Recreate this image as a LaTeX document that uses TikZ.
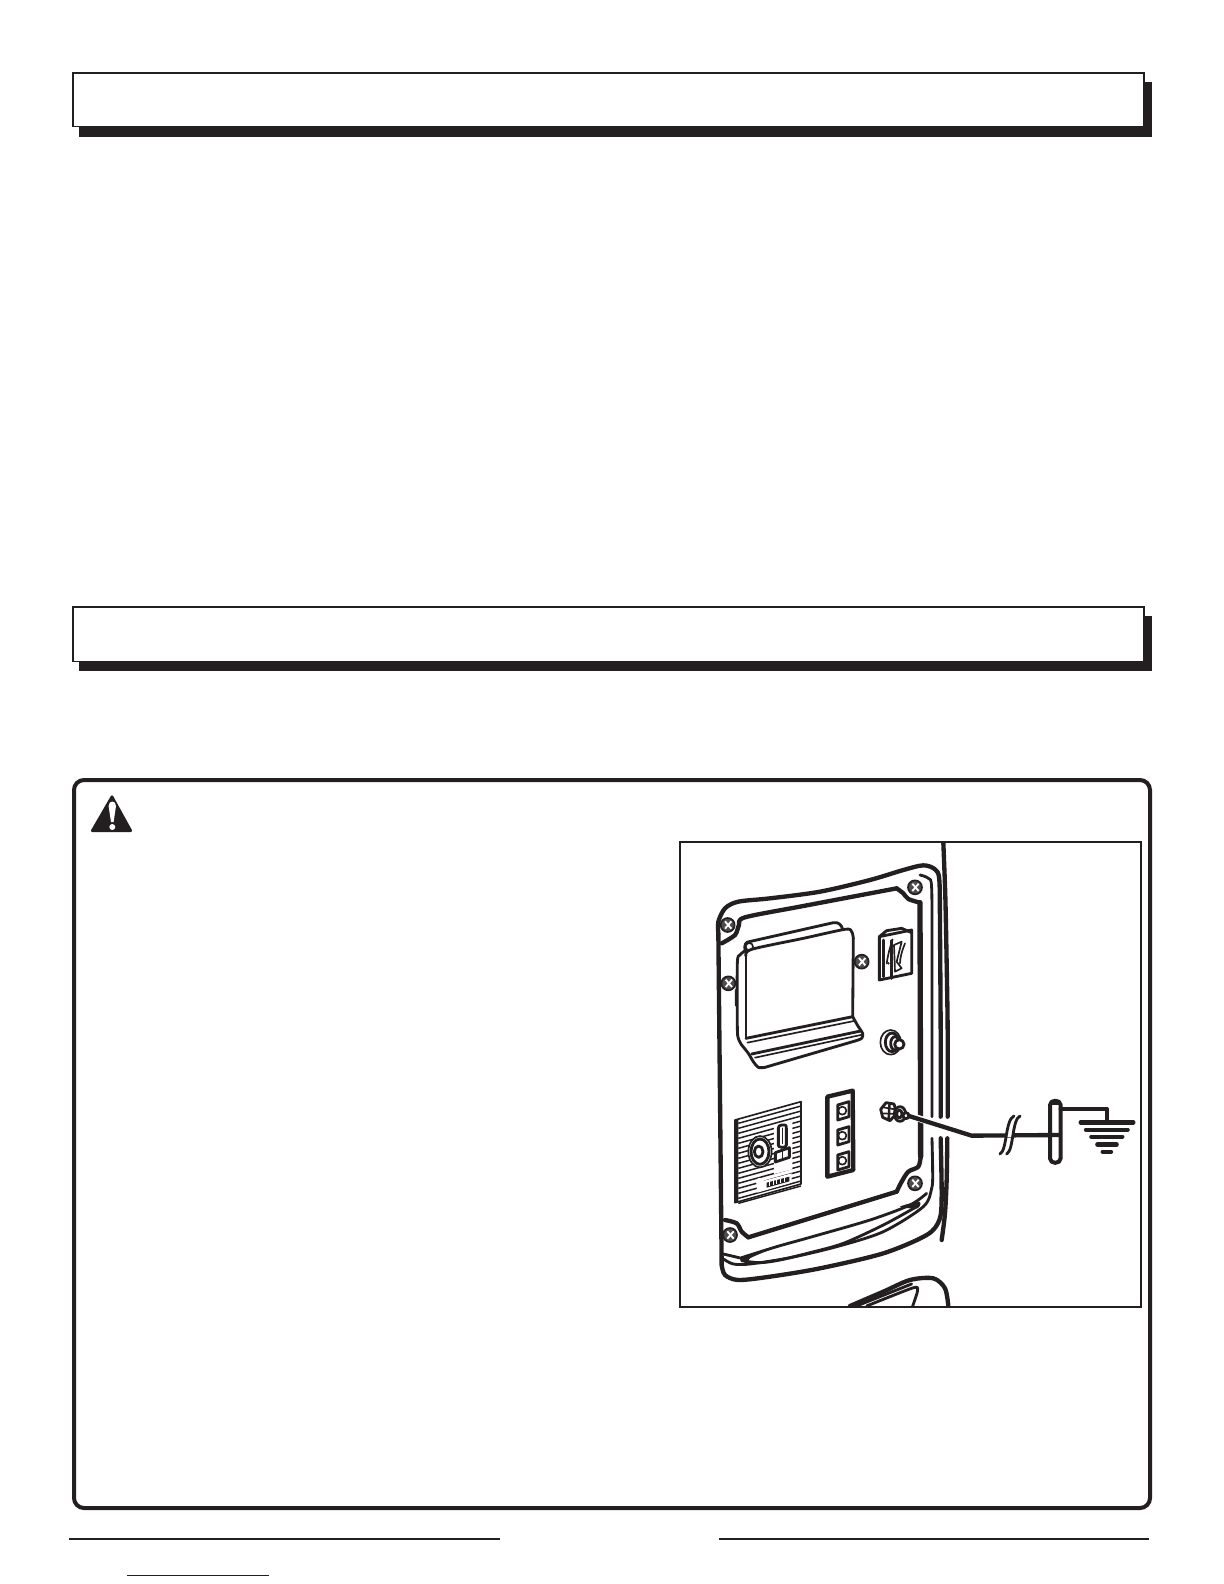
\documentclass[tikz,border=0pt]{standalone}
\definecolor{ink}{HTML}{231F20}
\definecolor{linkblue}{HTML}{10108C}
\tikzset{
  heavy/.style={draw=ink,line width=2.6pt,line cap=round,line join=round},
  medium/.style={draw=ink,line width=1.7pt,line cap=round,line join=round},
  fine/.style={draw=ink,line width=1pt,line cap=round,line join=round},
  hair/.style={draw=ink,line width=0.9pt},
  shadowbar/.style={fill=ink,draw=none},
  headerbox/.style={draw=ink,fill=white,line width=1pt},
  rule/.style={draw=ink,line width=1.2pt},
}
\begin{document}
\begin{tikzpicture}[x=0.6pt,y=-0.6pt]
\useasboundingbox (0,0) rectangle (1224,1584);
\fill[white] (0,0) rectangle (1224,1584);
% header bars
\fill[shadowbar] (79,82) rectangle (1152,137);
\draw[headerbox] (73,73) rectangle (1144,126.5);
\fill[shadowbar] (79,616) rectangle (1152,671);
\draw[headerbox] (73,607) rectangle (1144,661.5);
% warning frame
\draw[draw=ink,line width=2.4pt,rounded corners=6] (74,780) rectangle (1150,1508);
\fill[ink,rounded corners=1.5] (112,794) -- (133,832) -- (90,832) -- cycle;
\fill[white] (108.6,806) .. controls (108.6,800) and (116,800) .. (116,806) -- (113.6,822) -- (111,822) -- cycle;
\fill[white] (112.3,827) circle (3);
% footer
\draw[rule] (69,1539) -- (500,1539);
\draw[rule] (719,1539) -- (1149,1539);
\draw[draw=linkblue,line width=0.7pt] (127,1575.5) -- (269,1575.5);
% figure frame
\draw[draw=ink,line width=1.3pt] (680,842) rectangle (1141,1307);
% figure contents
\begin{scope}[shift={(670,830)},x=0.2pt,y=-0.2pt]
\clip (30,37) rectangle (1412,1430);
% body edge
\draw[heavy] plot[smooth] coordinates {(820,38) (826,200) (830,400) (833,600) (833,860)};
\draw[heavy] plot[smooth] coordinates {(832,925) (830,1050) (825,1150) (815,1230)};
% outer panel
\draw[heavy] plot[smooth] coordinates {(145,310) (145,275) (165,235) (205,215) (300,205) (450,185) (600,150) (700,120) (760,106) (795,118) (808,150) (810,300) (812,600) (812,860)};
\draw[heavy] plot[smooth] coordinates {(812,925) (815,1100) (808,1170) (770,1215) (640,1270) (450,1315) (300,1340) (205,1350) (165,1335) (155,1305)};
\draw[heavy] (145,310) -- (150,800) -- (155,1305);
% second rim
\draw[medium] plot[smooth] coordinates {(750,135) (775,145) (785,175) (786,400) (786,860)};
\draw[medium] plot[smooth] coordinates {(786,925) (788,1030) (785,1075) (760,1130) (640,1205) (500,1250) (360,1283) (240,1302) (190,1302) (162,1288)};
% lens highlight
\draw[medium] (160,1272) -- (215,1285);
\draw[medium] plot[smooth] coordinates {(215,1283) (320,1250) (420,1222) (600,1170) (720,1125) (770,1090)};
\fill[ink] plot[smooth cycle] coordinates {(212,1284) (300,1258) (240,1285) (235,1302)};
\fill[ink] plot[smooth cycle] coordinates {(690,1130) (748,1115) (742,1135)};
\draw[medium] plot[smooth] coordinates {(215,1292) (270,1298) (330,1290) (420,1268) (520,1240) (640,1185) (740,1130)};
% recess
\draw[heavy] plot[smooth] coordinates {(155,340) (195,315) (207,285) (225,262) (400,228) (680,175)};
\draw[heavy] plot[smooth] coordinates {(680,175) (700,190) (715,207) (750,218)};
\draw[heavy,line width=3.2pt] (750,218) -- (752,980);
\draw[heavy] plot[smooth] coordinates {(752,980) (745,1010) (715,1025) (695,1055) (680,1085)};
\draw[heavy] (680,1085) -- (235,1222);
\draw[heavy] plot[smooth] coordinates {(235,1222) (215,1205) (200,1180) (165,1170)};
% display cover
\draw[medium] (225,360) .. controls (222,345) and (228,335) .. (238,335) -- (490,278) .. controls (505,275) and (515,285) .. (518,298);
\draw[fine] (238,350) circle (11);
\draw[medium] plot[smooth] coordinates {(228,378) (245,358) (400,325) (525,298) (545,305) (550,325)};
\draw[medium] (228,378) -- (228,625);
\draw[medium] (550,325) -- (548,560);
\draw[medium] plot[smooth] coordinates {(548,560) (565,590) (578,610) (575,625) (555,633)};
\draw[medium] (555,633) -- (285,712);
\draw[medium] plot[smooth] coordinates {(285,712) (265,712) (250,695) (235,670) (215,645)};
\draw[medium] plot[smooth] coordinates {(215,645) (205,625) (202,590) (202,400) (210,375) (228,360)};
\draw[fine] (202,480) -- (197,480) -- (197,525) -- (202,530);
\draw[medium] (228,625) -- (548,560);
\draw[fine] (232,638) -- (552,573);
\draw[medium] (245,672) -- (572,603);
\draw[fine] (255,683) -- (577,614);
% switch
\draw[medium] (628,320) -- (725,300) -- (725,430) -- (628,450) -- cycle;
\draw[medium] (628,320) -- (650,302) -- (695,295) -- (725,308);
\draw[medium] (664,332) -- (664,445);
\draw[medium] (640,330) -- (640,440);
\draw[fine] (650,400) .. controls (655,370) and (660,350) .. (668,328);
\draw[fine] (672,345) -- (695,335) -- (680,395) -- (695,415) -- (675,425) -- cycle;
\draw[fine] (705,340) .. controls (695,365) and (690,385) .. (690,400);
\fill[ink] (655,400) circle (4);
% knob
\draw[fine] (662,637) ellipse (31 and 37);
\draw[medium] (666,637) ellipse (20 and 28);
\draw[medium,fill=white] (675,640) ellipse (13 and 20);
\draw[medium,fill=white] (688,643) circle (14);
% outlet strip
\draw[heavy,fill=white] (472,800) -- (548,782) -- (550,1020) -- (472,1040) -- cycle;
\foreach \yy in {0,75,150}{
  \draw[medium] (503,{825+\yy}) -- (537,{815+\yy}) -- (537,{860+\yy}) -- (503,{870+\yy}) -- cycle;
  \draw[fine] (517,{842+\yy}) circle (12);
}
% big outlet
\draw[fine,fill=white] (195,870) -- (393,815) -- (393,1062) -- (195,1118) -- cycle;
\fill[ink] (195,870) -- (205,868) -- (205,1115) -- (195,1118) -- cycle;
\foreach \kk in {0,...,16}{
  \draw[hair] (205,{880+15*\kk}) -- (393,{828+15*\kk});
}
\fill[white] (312,885) -- (367,870) -- (367,1018) -- (312,1032) -- cycle;
\draw[medium] (335,885) -- (345,885) .. controls (349,885) and (349,890) .. (349,895) -- (349,945) .. controls (349,950) and (345,952) .. (335,952) .. controls (327,952) and (325,948) .. (325,945) -- (325,895) .. controls (325,890) and (327,885) .. (335,885);
\draw[fine] (337,895) -- (337,940);
\draw[medium,fill=white] (316,968) -- (358,953) -- (358,982) -- (316,996) -- cycle;
\draw[fine] (337,960) -- (337,990);
\draw[fine,fill=white] (270,965) ellipse (35 and 47);
\draw[medium] (270,965) ellipse (27 and 38);
\draw[medium] (266,965) ellipse (13 and 17);
\fill[white] (258,1052) .. controls (262,1042) and (275,1040) .. (282,1052) -- (365,1030) -- (365,1058) -- (262,1088) -- cycle;
\fill[ink] (290,1058) -- (358,1040) -- (358,1054) -- (290,1073) -- cycle;
\foreach \xx in {298,309,320,331,342}{ \draw[white,line width=0.4pt] (\xx,{1056-(\xx-290)*0.27}) -- (\xx,{1070-(\xx-290)*0.27}); }
% screws
\foreach \sx/\sy in {173/285,735/172,175/460,575/395,735/1060,180/1215}{
  \fill[ink!80] (\sx,\sy) circle (21);
  \draw[fine] (\sx,\sy) circle (21);
  \draw[white,line width=1.1pt] ({\sx-8},{\sy-11}) -- ({\sx+11},{\sy+11});
  \draw[white,line width=1.1pt] ({\sx+11},{\sy-11}) -- ({\sx-8},{\sy+11});
}
% ground terminal
\draw[medium,fill=white] (648,818) -- (672,822) -- (680,850) -- (660,872) -- (638,862) -- (632,838) -- cycle;
\fill[ink] (655,820) -- (662,822) -- (660,870) -- (652,868) -- cycle;
\draw[fine] (640,832) -- (675,838);
\draw[fine] (635,850) -- (678,852);
\draw[medium,fill=white] (690,852) ellipse (17 and 22);
\draw[medium] (688,852) ellipse (8 and 12);
\draw[medium,fill=white] (708,857) circle (9);
% wire with halo
\draw[white,line width=4pt] (735,862) -- (905,917);
\draw[heavy] (717,858) -- (905,917) -- (1165,915);
% line break
\draw[white,line width=2pt] (1010,915) -- (1025,915);
\draw[heavy,line width=1.7pt] (990,972) .. controls (1012,960) and (1005,870) .. (1032,858);
\draw[heavy,line width=1.7pt] (1010,972) .. controls (1032,960) and (1025,870) .. (1050,858);
% rod
\draw[heavy,line width=2.4pt] (1140,825) .. controls (1140,808) and (1172,808) .. (1172,825) -- (1172,985) .. controls (1172,1003) and (1140,1003) .. (1140,985) -- cycle;
\fill[ink] (1140,825) .. controls (1140,806) and (1172,806) .. (1172,825) -- cycle;
% ground symbol
\draw[heavy] (1172,836) -- (1310,836) -- (1310,877);
\draw[ink,line width=2.6pt,line cap=round] (1232,877) -- (1390,877);
\draw[ink,line width=2.6pt,line cap=round] (1248,899) -- (1373,899);
\draw[ink,line width=2.6pt,line cap=round] (1264,920) -- (1357,920);
\draw[ink,line width=2.6pt,line cap=round] (1282,943) -- (1340,943);
\draw[ink,line width=2.6pt,line cap=round] (1298,965) -- (1323,965);
% bottom handle
\draw[heavy] plot[smooth] coordinates {(540,1428) (640,1385) (720,1350) (790,1345) (825,1375) (835,1428)};
\draw[medium] plot[smooth] coordinates {(590,1428) (660,1400) (735,1372) (742,1385) (728,1428)};
\draw[medium] (560,1428) -- (725,1362);
\end{scope}
\end{tikzpicture}
\end{document}
